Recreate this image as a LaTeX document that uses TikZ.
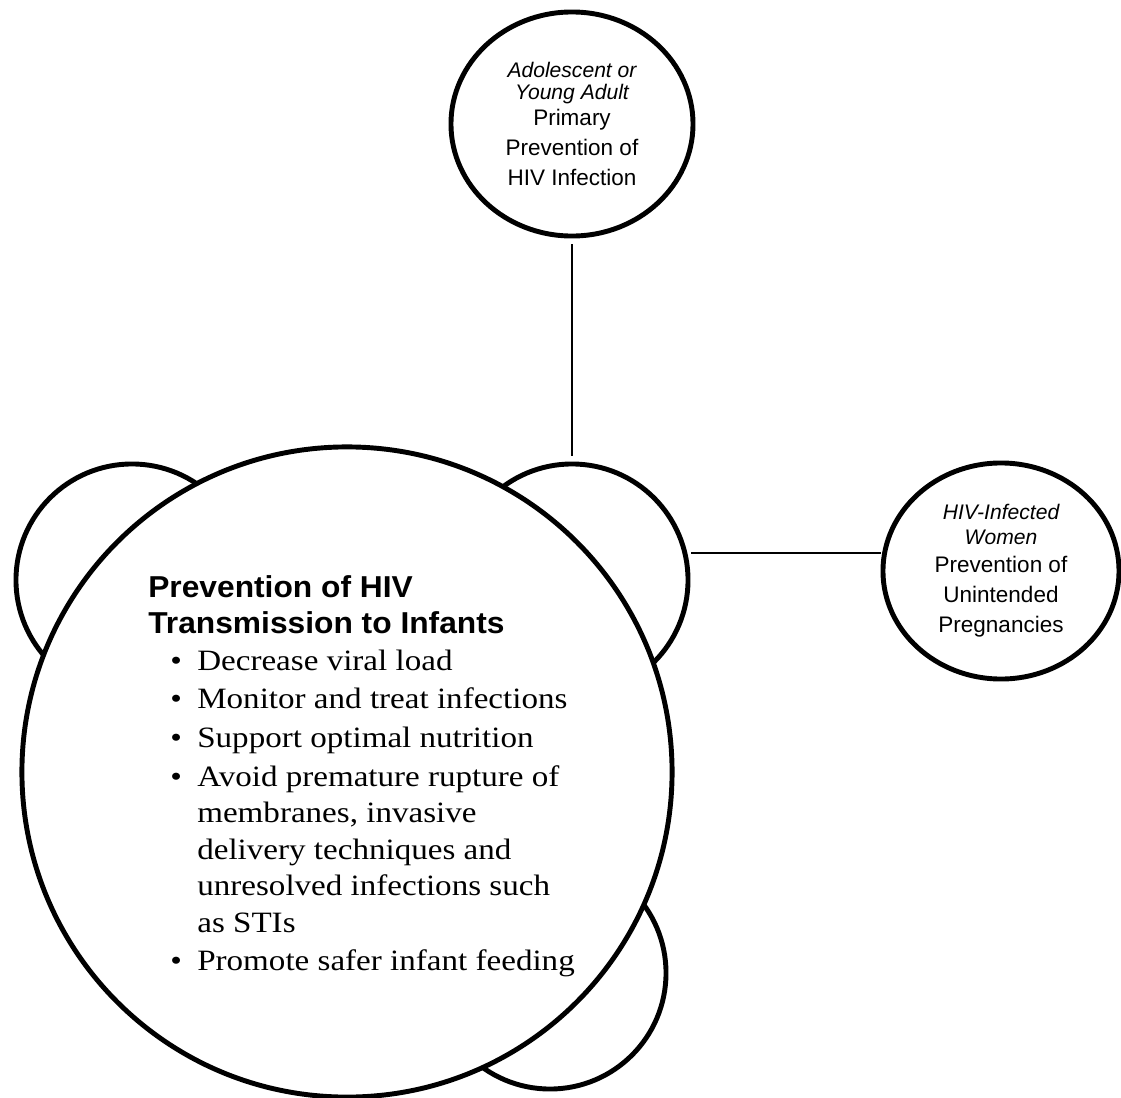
\documentclass[tikz,border=0pt]{standalone}
\usepackage{fontspec}
\setmainfont{Liberation Serif}
\setsansfont{Liberation Sans}
\newfontfamily\stepfont[FakeStretch=1.12]{Liberation Serif}
\newfontfamily\headfont[FakeStretch=1.05]{Liberation Sans}
\usetikzlibrary{shapes.geometric}
\newcommand{\grouptag}[1]{{\fontsize{15}{15}\selectfont\itshape #1}}
\begin{document}
\begin{tikzpicture}[
  x=0.025cm, y=-0.025cm,
  ring/.style={circle, draw, line width=3.5pt, inner sep=0pt},
  bump/.style={ring, minimum size=5.8cm},
  goal/.style={ellipse, draw, line width=3.5pt, inner sep=0pt, align=center,
    font=\sffamily\fontsize{16}{21.3}\selectfont},
  link/.style={line width=1.4pt}
]
  \useasboundingbox (0, 0) rectangle (1121, 1098);
  % Kreise hinter dem Hauptkreis
  \node[bump] (bumpL) at (132, 580) {};
  \node[bump] (bumpR) at (572, 580) {};
  \node[bump] (bumpB) at (550, 973) {};
  \node[ring, fill=white, minimum size=16.25cm] (infants) at (347, 772) {};
  \node[anchor=base west, inner sep=0pt, font=\headfont\bfseries\fontsize{21.5}{25.6}\selectfont]
    (title) at (148, 597) {\begin{tabular}[t]{@{}l@{}}Prevention of HIV\\Transmission to Infants\end{tabular}};
  \node[anchor=base west, inner sep=0pt, font=\stepfont\fontsize{21}{26}\selectfont]
    (steps) at (170, 670) {\begin{tabular}[t]{@{}l@{\hspace{11pt}}l@{}}
      \textbullet & Decrease viral load\\[1.5pt]
      \textbullet & Monitor and treat infections\\[1.5pt]
      \textbullet & Support optimal nutrition\\[1.5pt]
      \textbullet & Avoid premature rupture of\\
                  & membranes, invasive\\
                  & delivery techniques and\\
                  & unresolved infections such\\
                  & as STIs\\[1.5pt]
      \textbullet & Promote safer infant feeding
    \end{tabular}};
  \node[goal, minimum width=6.05cm, minimum height=5.6cm] (youth) at (572, 124)
    {\grouptag{Adolescent or}\\[-5.7pt]\grouptag{Young Adult}\\[-2.5pt]Primary\\Prevention of\\HIV Infection};
  \node[goal, minimum width=5.9cm, minimum height=5.4cm] (women) at (1001, 571)
    {\grouptag{HIV-Infected}\\[-4pt]\grouptag{Women}\\[-1pt]Prevention of\\Unintended\\Pregnancies};
  \draw[link, shorten <=0.15cm, shorten >=0.15cm] (youth.south) -- (bumpR.north);
  \draw[link, shorten <=0.1cm] (bumpR.13) -- (bumpR.13 -| women.west);
\end{tikzpicture}
\end{document}
